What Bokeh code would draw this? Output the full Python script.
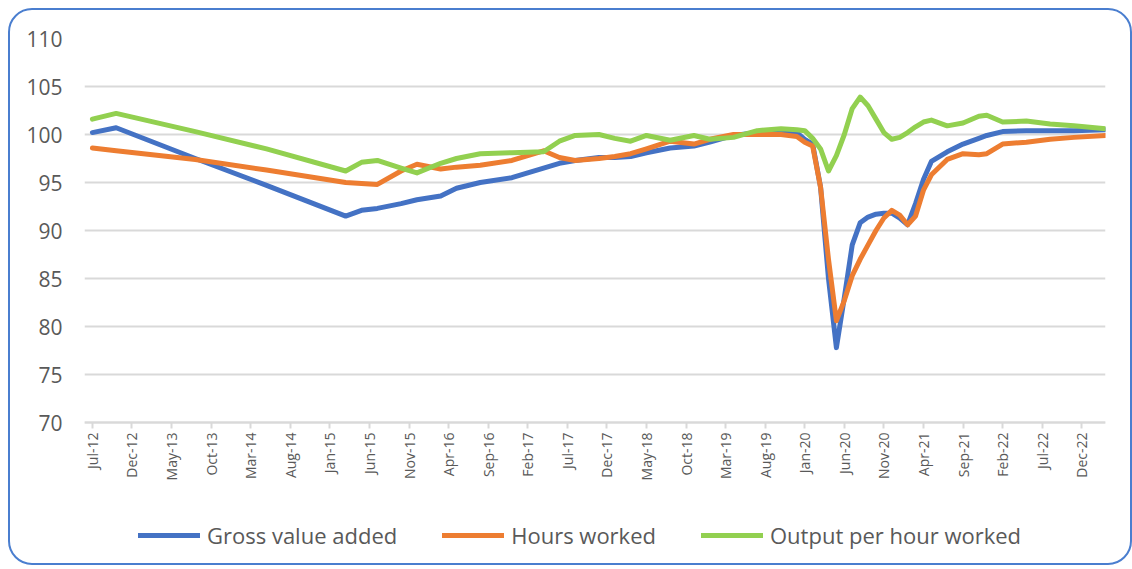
from bokeh.plotting import figure
from bokeh.models import FixedTicker, Legend, LegendItem, ColumnDataSource, LinearAxis
from bokeh.embed import file_html
from bokeh.resources import INLINE
import math

# ---- data ----
dates = ["2012-07", "2012-10", "2013-08", "2014-05", "2015-03",
         "2015-05", "2015-07", "2015-10", "2015-12", "2016-03",
         "2016-05", "2016-08", "2016-12", "2017-04", "2017-06",
         "2017-08", "2017-11", "2018-01", "2018-03", "2018-05",
         "2018-08", "2018-11", "2019-01", "2019-04", "2019-07",
         "2019-10", "2019-12", "2020-01", "2020-02", "2020-03",
         "2020-04", "2020-05", "2020-06", "2020-07", "2020-08",
         "2020-09", "2020-10", "2020-11", "2020-12", "2021-01",
         "2021-02", "2021-03", "2021-04", "2021-05", "2021-07",
         "2021-09", "2021-11", "2021-12", "2022-02", "2022-05",
         "2022-08", "2022-11", "2023-03"]

gross_value_added = [100.2, 100.7, 97.5, 94.7, 91.5,
                     92.1, 92.3, 92.8, 93.2, 93.6,
                     94.4, 95.0, 95.5, 96.5, 97.0,
                     97.3, 97.6, 97.6, 97.7, 98.1,
                     98.6, 98.8, 99.2, 99.9, 100.2,
                     100.4, 100.2, 99.5, 99.0, 94.5,
                     85.0, 77.8, 83.0, 88.5, 90.8,
                     91.4, 91.7, 91.8, 91.8, 91.3,
                     90.6, 92.8, 95.3, 97.2, 98.2,
                     99.0, 99.6, 99.9, 100.3, 100.4,
                     100.4, 100.4, 100.5]

hours_worked = [98.6, 98.3, 97.4, 96.3, 95.0,
                94.9, 94.8, 96.2, 96.9, 96.4,
                96.6, 96.8, 97.3, 98.3, 97.6,
                97.3, 97.5, 97.7, 98.0, 98.5,
                99.3, 99.0, 99.5, 100.0, 100.0,
                100.0, 99.8, 99.2, 98.8, 94.5,
                87.0, 80.6, 82.7, 85.3, 87.0,
                88.5, 90.0, 91.3, 92.1, 91.6,
                90.6, 91.5, 94.2, 95.8, 97.4,
                98.0, 97.9, 98.0, 99.0, 99.2,
                99.5, 99.7, 99.9]

output_per_hour = [101.6, 102.2, 100.3, 98.5, 96.2,
                   97.1, 97.3, 96.5, 96.0, 97.0,
                   97.5, 98.0, 98.1, 98.2, 99.3,
                   99.9, 100.0, 99.6, 99.3, 99.9,
                   99.4, 99.9, 99.5, 99.7, 100.4,
                   100.6, 100.5, 100.4, 99.6, 98.5,
                   96.2, 97.8, 100.0, 102.7, 103.9,
                   103.0, 101.6, 100.2, 99.5, 99.7,
                   100.2, 100.8, 101.3, 101.5, 100.9,
                   101.2, 101.9, 102.0, 101.3, 101.4,
                   101.1, 100.9, 100.6]

tick_labels = ["Jul-12", "Dec-12", "May-13", "Oct-13", "Mar-14", "Aug-14",
               "Jan-15", "Jun-15", "Nov-15", "Apr-16", "Sep-16", "Feb-17",
               "Jul-17", "Dec-17", "May-18", "Oct-18", "Mar-19", "Aug-19",
               "Jan-20", "Jun-20", "Nov-20", "Apr-21", "Sep-21", "Feb-22",
               "Jul-22", "Dec-22"]

y_ticks = [70, 75, 80, 85, 90, 95, 100, 105, 110]

series_names = ["Gross value added", "Hours worked", "Output per hour worked"]
colors = ["#4472C4", "#ED7D31", "#92D050"]


def month_index(s):
    y, m = s.split("-")
    return (int(y) - 2012) * 12 + (int(m) - 7)


x = [month_index(d) for d in dates]
source = ColumnDataSource(dict(x=x, gva=gross_value_added, hours=hours_worked, oph=output_per_hour))

FONT = "Open Sans"
GRAY = "#595959"

# the frame reaches down to the bottom of the box so that the legend can sit
# below the x axis (which is pinned at y = 70); 9.6 px per index point
Y_TOP = 110
Y_BOTTOM = Y_TOP - 525 / 9.6

p = figure(frame_width=1021, frame_height=525, output_backend="svg", toolbar_location=None,
           x_range=(-1, 128), y_range=(Y_BOTTOM, Y_TOP), x_axis_location=None,
           min_border_left=74, min_border_right=25, min_border_top=28, min_border_bottom=0)
p.styles = {"border": "2px solid #4A7ECF", "border-radius": "24px", "margin": "8px 0 0 8px"}
p.outline_line_color = None
p.background_fill_color = "white"
p.border_fill_color = None

# y axis
p.yaxis.ticker = FixedTicker(ticks=y_ticks)
p.yaxis.axis_line_color = None
p.yaxis.major_tick_line_color = None
p.yaxis.minor_tick_line_color = None
p.yaxis.major_label_text_font = FONT
p.yaxis.major_label_text_font_size = "21px"
p.yaxis.major_label_text_color = GRAY
p.yaxis.major_label_standoff = 16

# x axis pinned at y = 70
ticks = list(range(0, 126, 5))
xaxis = LinearAxis(fixed_location=70, ticker=FixedTicker(ticks=ticks),
                   major_label_overrides={t: lab for t, lab in zip(ticks, tick_labels)},
                   major_label_orientation=math.pi / 2,
                   axis_line_color="#D9D9D9", axis_line_width=2,
                   major_tick_line_color="#D9D9D9", major_tick_line_width=2,
                   major_tick_in=0, major_tick_out=6, minor_tick_line_color=None,
                   major_label_text_font=FONT, major_label_text_font_size="14px",
                   major_label_text_color=GRAY, major_label_standoff=4)
p.add_layout(xaxis, "below")

p.xgrid.grid_line_color = None
p.ygrid.ticker = FixedTicker(ticks=y_ticks)
p.ygrid.grid_line_color = "#D9D9D9"
p.ygrid.grid_line_width = 2

r1 = p.line("x", "gva", source=source, line_color=colors[0], line_width=5, line_join="round", line_cap="round")
r2 = p.line("x", "hours", source=source, line_color=colors[1], line_width=5, line_join="round", line_cap="round")
r3 = p.line("x", "oph", source=source, line_color=colors[2], line_width=5, line_join="round", line_cap="round")

legend = Legend(items=[LegendItem(label=series_names[0], renderers=[r1]),
                       LegendItem(label=series_names[1], renderers=[r2]),
                       LegendItem(label=series_names[2], renderers=[r3])],
                orientation="horizontal", location=(54, 13),
                label_text_font=FONT, label_text_font_size="22px", label_text_color=GRAY,
                glyph_width=62, glyph_height=26, label_height=26, label_standoff=7, spacing=45,
                border_line_color=None, background_fill_alpha=0, margin=0, padding=0)
p.add_layout(legend, "center")

open("out.html", "w").write(file_html(p, INLINE))
